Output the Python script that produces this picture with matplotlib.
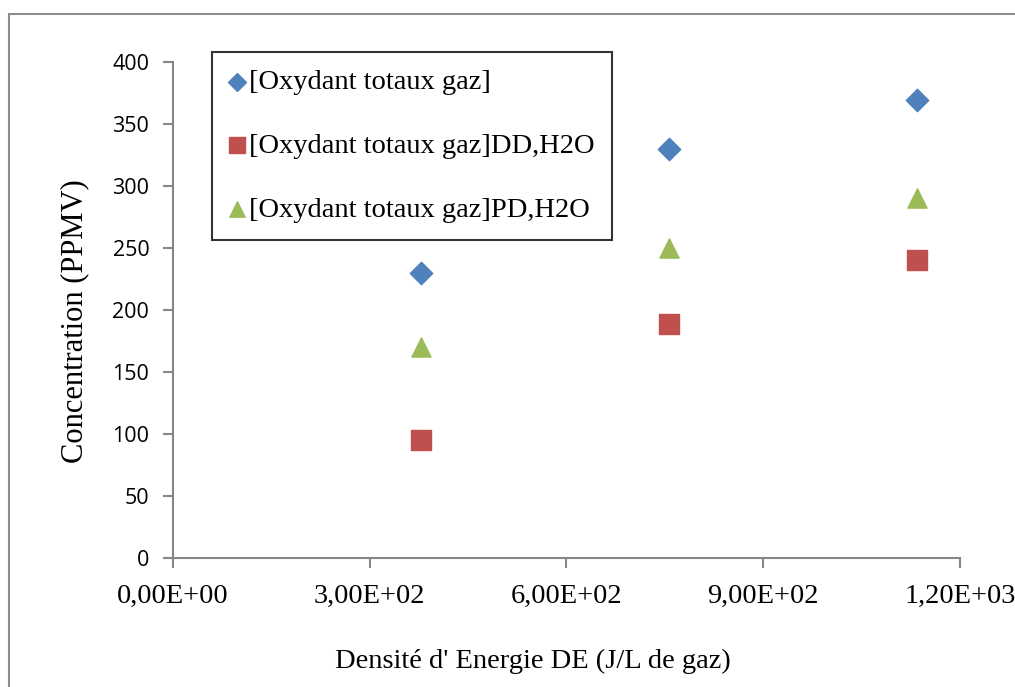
import matplotlib.pyplot as plt
from matplotlib.patches import Rectangle
from matplotlib.ticker import FuncFormatter

# energy density (J/L) and concentrations (PPMV)
energie = [378, 756, 1134]
oxy_total = [230, 330, 369]
oxy_dd = [95, 189, 240]
oxy_pd = [170, 250, 290]

labels = ['[Oxydant totaux gaz]', '[Oxydant totaux gaz]DD,H2O', '[Oxydant totaux gaz]PD,H2O']
x_ticks = [0, 300, 600, 900, 1200]
y_ticks = [0, 50, 100, 150, 200, 250, 300, 350, 400]

serif = 'Liberation Serif'
sans = 'Open Sans'
grey = '#868686'

fig = plt.figure(figsize=(10.15, 6.87), dpi=100)
ax = fig.add_axes([0.1704, 0.1878, 0.7754, 0.7220])

# outer chart frame (right and bottom edges fall outside the image)
fig.patches.append(Rectangle((9 / 1015, -0.05), 1.1, 1 - 14 / 687 + 0.05,
                             transform=fig.transFigure, fill=False,
                             edgecolor='#8c8c8c', linewidth=1.5))

ax.scatter(energie, oxy_total, marker='D', s=130, color='#4F81BD', label=labels[0], zorder=3)
ax.scatter(energie, oxy_dd, marker='s', s=190, color='#C0504D', label=labels[1], zorder=3)
ax.scatter(energie, oxy_pd, marker='^', s=190, color='#9BBB59', label=labels[2], zorder=3)

ax.set_xlim(0, 1200)
ax.set_ylim(0, 400)
ax.set_xticks(x_ticks)
ax.set_yticks(y_ticks)
ax.xaxis.set_major_formatter(FuncFormatter(
    lambda v, p: '{:.2E}'.format(v).replace('.', ',')))

for s in ['top', 'right']:
    ax.spines[s].set_visible(False)
for s in ['left', 'bottom']:
    ax.spines[s].set_color(grey)
    ax.spines[s].set_linewidth(1.5)

ax.tick_params(axis='both', direction='out', length=7, width=1.5, color=grey)
ax.tick_params(axis='x', pad=12)
ax.tick_params(axis='y', pad=10)
for t in ax.get_xticklabels():
    t.set_fontfamily(serif)
    t.set_fontsize(20.5)
for t in ax.get_yticklabels():
    t.set_fontfamily(sans)
    t.set_fontsize(15.5)

ax.set_xlabel("Densité d' Energie DE (J/L de gaz)", fontfamily=serif, fontsize=20.5)
ax.set_ylabel('Concentration (PPMV)', fontfamily=serif, fontsize=22)
ax.xaxis.set_label_coords(0.457, -0.183)
ax.yaxis.set_label_coords(-0.107, 0.478)

leg = ax.legend(loc='upper left', bbox_to_anchor=(212 / 1015, 1 - 52 / 687),
                bbox_transform=fig.transFigure, prop={'family': serif, 'size': 20.5},
                frameon=True, fancybox=False, edgecolor='black', labelspacing=1.33,
                handletextpad=0.15, handlelength=0.55, borderpad=0.6,
                borderaxespad=0, markerscale=0.8)
leg.get_frame().set_linewidth(1.5)

fig.savefig('out.png', dpi=100)
